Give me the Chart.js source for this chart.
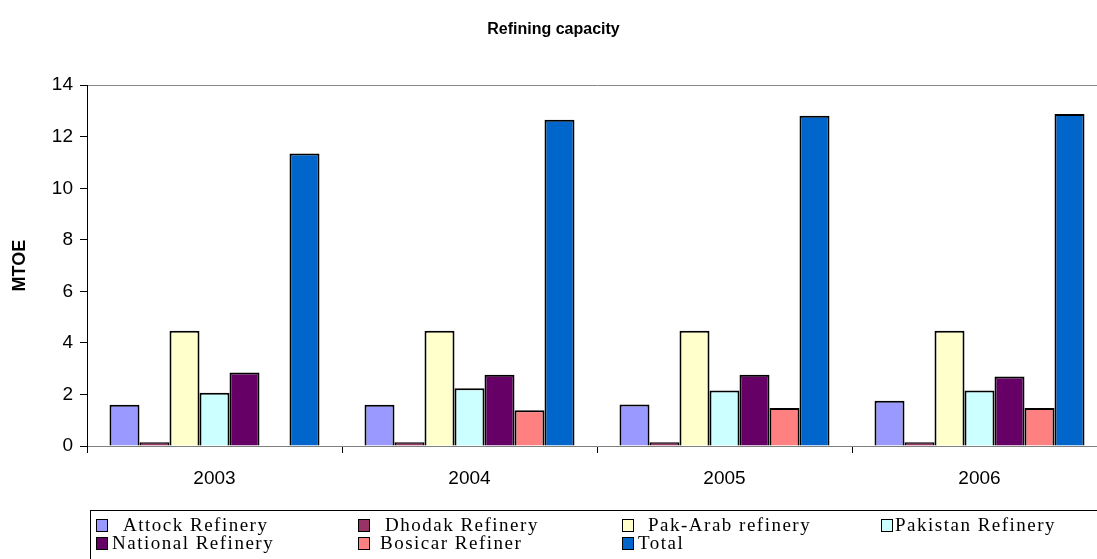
<!DOCTYPE html>
<html>
<head>
<meta charset="utf-8">
<script src="https://cdn.jsdelivr.net/npm/chart.js@4"></script>
<style>
  html, body { margin: 0; padding: 0; background: #fff; overflow: hidden; }
  #wrap { width: 1097px; height: 559px; overflow: hidden; }
  canvas { display: block; }
</style>
</head>
<body>
<div id="wrap"><canvas id="refChart" width="1110" height="570"></canvas></div>
<script>
const years = ['2003', '2004', '2005', '2006'];
const attock = [1.6, 1.6, 1.61, 1.76];
const dhodak = [0.15, 0.15, 0.15, 0.15];
const pakArab = [4.47, 4.47, 4.47, 4.47];
const pakistan = [2.07, 2.24, 2.15, 2.15];
const national = [2.85, 2.76, 2.76, 2.70];
const bosicar = [null, 1.39, 1.47, 1.47];
const total = [11.35, 12.66, 12.81, 12.88];
const yTicks = [0, 2, 4, 6, 8, 10, 12, 14];

const seriesNames = ['Attock Refinery', 'Dhodak Refinery', 'Pak-Arab refinery', 'Pakistan Refinery',
                     'National Refinery', 'Bosicar Refiner', 'Total'];
const seriesValues = [attock, dhodak, pakArab, pakistan, national, bosicar, total];
const seriesColors = ['#9999FF', '#993366', '#FFFFCC', '#CCFFFF', '#660066', '#FF8080', '#0066CC'];

// hand drawn legend box, laid out like the original (two rows, four columns)
const legendSpots = [
  { mx: 96, tx: 123, row: 0 }, { mx: 358, tx: 385, row: 0 }, { mx: 622, tx: 648, row: 0 }, { mx: 881, tx: 895, row: 0 },
  { mx: 96, tx: 112, row: 1 }, { mx: 358, tx: 380, row: 1 }, { mx: 622, tx: 638, row: 1 }
];

const boxLegend = {
  id: 'boxLegend',
  afterDraw(chart) {
    const c = chart.ctx;
    c.save();
    c.strokeStyle = '#000';
    c.lineWidth = 1;
    c.strokeRect(90.5, 510.5, 1015, 60);
    c.font = '19px "Liberation Serif", "Times New Roman", serif';
    c.letterSpacing = '1.5px';
    c.textBaseline = 'alphabetic';
    chart.data.datasets.forEach((ds, i) => {
      const s = legendSpots[i];
      const by = s.row === 0 ? 531 : 549;
      c.fillStyle = ds.backgroundColor;
      c.fillRect(s.mx, by - 12, 11, 12);
      c.strokeRect(s.mx + 0.5, by - 11.5, 11, 12);
      c.fillStyle = '#000';
      c.fillText(ds.label, s.tx, by);
    });
    c.restore();
  }
};

new Chart(document.getElementById('refChart'), {
  type: 'bar',
  data: {
    labels: years,
    datasets: seriesNames.map((name, i) => ({
      label: name,
      data: seriesValues[i],
      backgroundColor: seriesColors[i],
      borderColor: '#000',
      borderWidth: 2,
      barPercentage: 1,
      categoryPercentage: 0.8235
    }))
  },
  options: {
    responsive: false,
    animation: false,
    layout: { padding: { left: 0, right: 3, top: 0, bottom: 84 } },
    plugins: {
      legend: { display: false },
      tooltip: { enabled: false },
      title: {
        display: true,
        text: 'Refining capacity',
        color: '#000',
        font: { family: 'Arial, "Liberation Sans", sans-serif', size: 16, weight: 'bold' },
        padding: { top: 20, bottom: 46 }
      }
    },
    scales: {
      x: {
        grid: { drawOnChartArea: false, offset: true, tickLength: 7, tickColor: '#000' },
        border: { color: '#808080', width: 1 },
        ticks: {
          color: '#000',
          padding: 14,
          font: { family: 'Arial, "Liberation Sans", sans-serif', size: 19 }
        },
        afterFit(scale) { scale.height = 40; }
      },
      y: {
        min: 0,
        max: 14,
        afterBuildTicks(scale) { scale.ticks = yTicks.map(v => ({ value: v })); },
        grid: {
          color: ctx => (ctx.tick && ctx.tick.value === 14 ? '#888' : 'rgba(0,0,0,0)'),
          tickColor: '#000',
          tickLength: 7
        },
        border: { color: '#000', width: 1 },
        ticks: {
          color: '#000',
          padding: 7,
          font: { family: 'Arial, "Liberation Sans", sans-serif', size: 19 }
        },
        title: {
          display: true,
          text: 'MTOE',
          color: '#000',
          padding: { top: 9, bottom: 0 },
          font: { family: 'Arial, "Liberation Sans", sans-serif', size: 18, weight: 'bold' }
        },
        afterFit(scale) { scale.width = 87; }
      }
    }
  },
  plugins: [boxLegend]
});
</script>
</body>
</html>
